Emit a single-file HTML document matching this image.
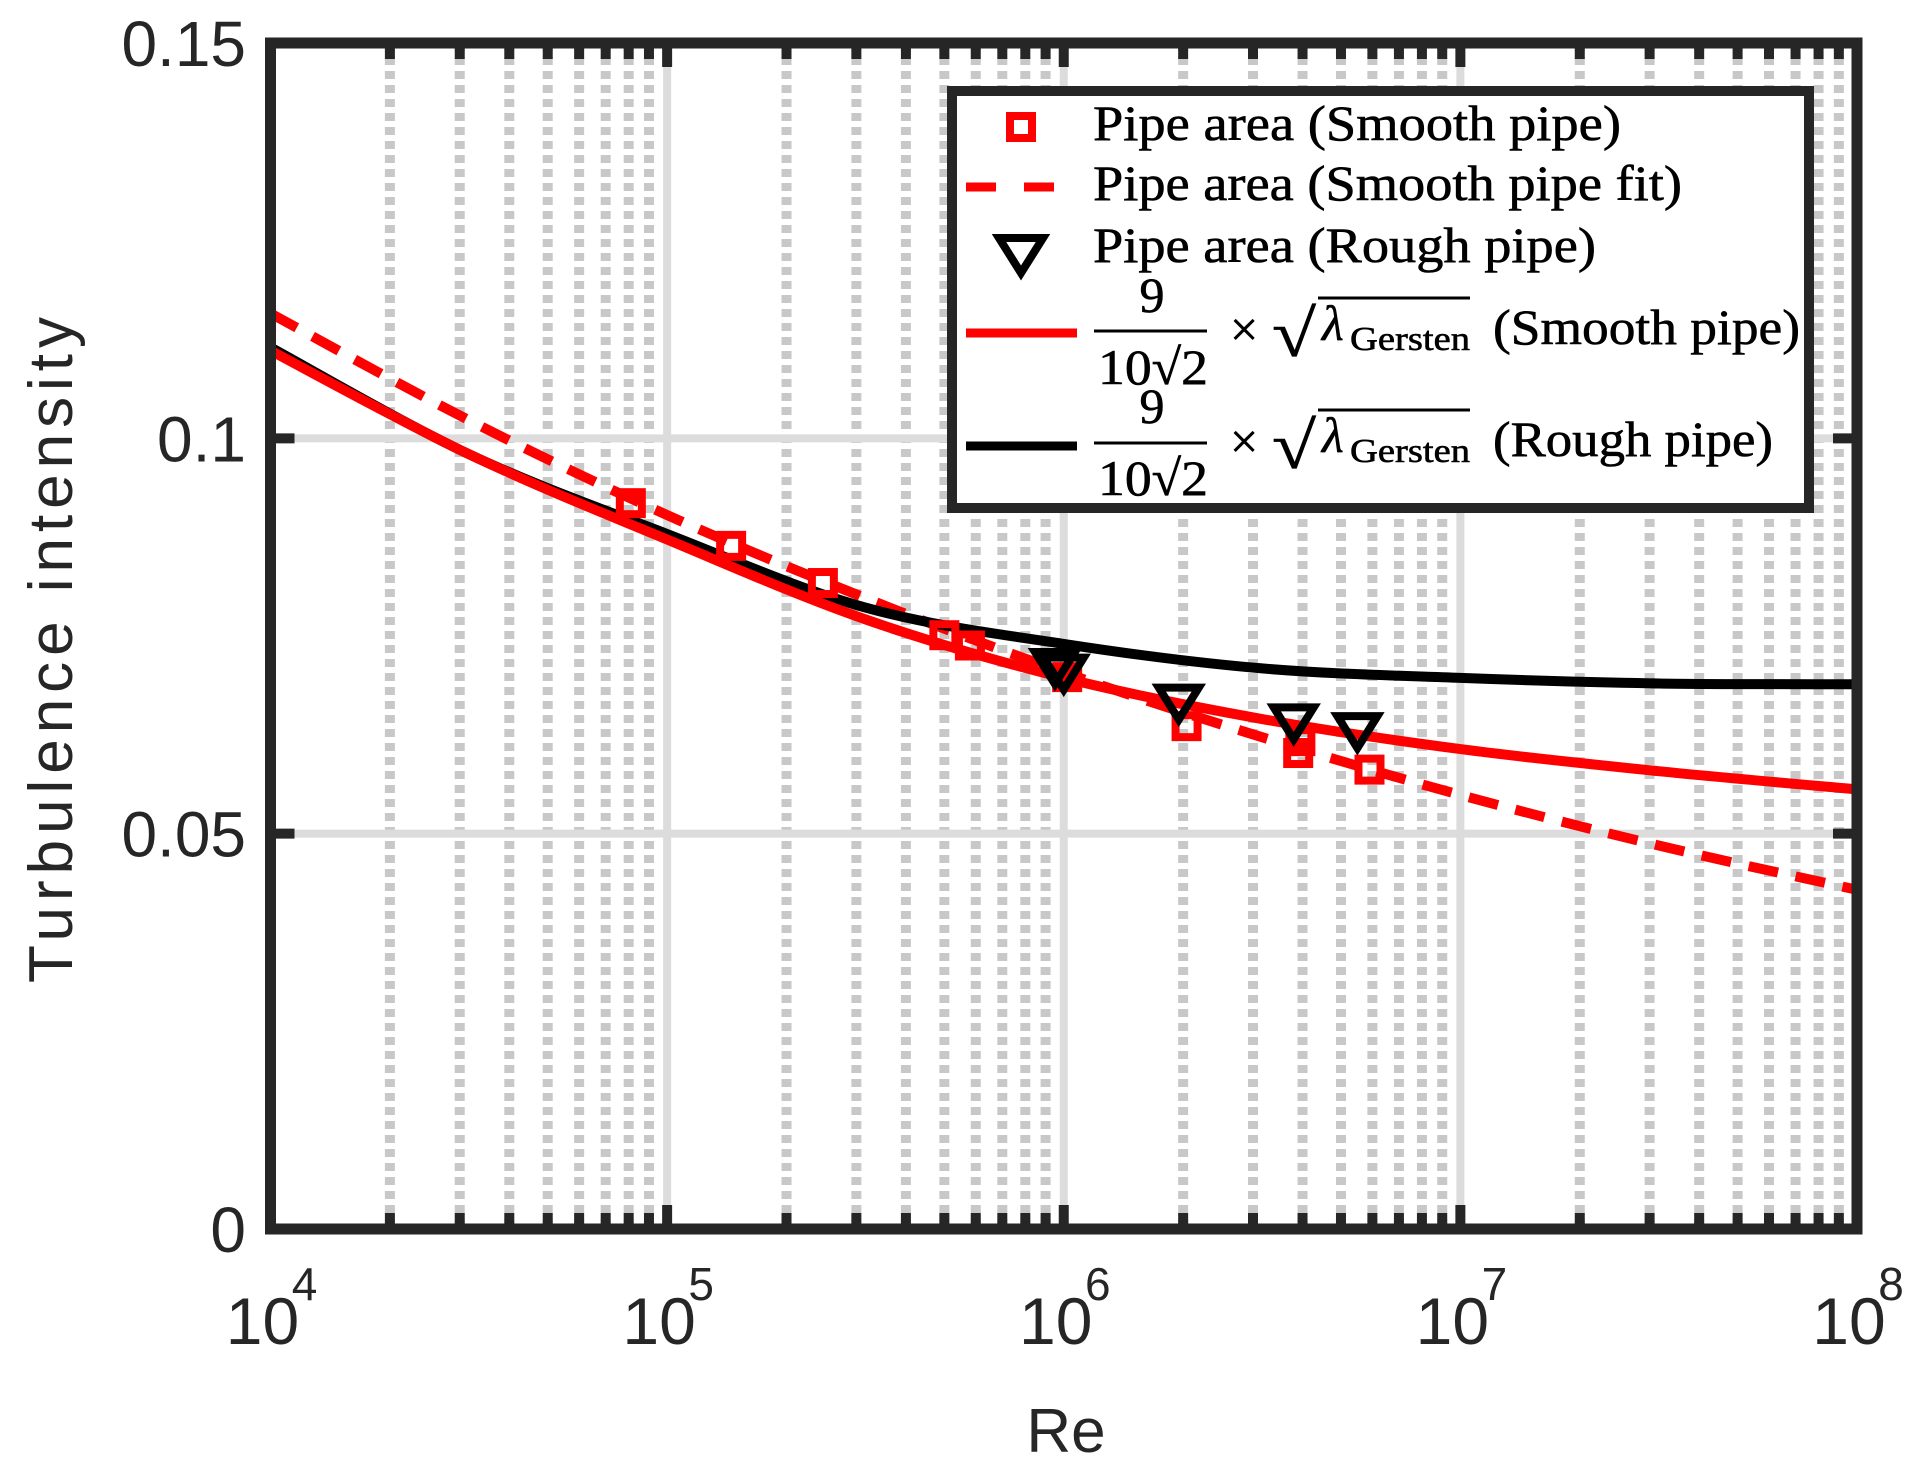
<!DOCTYPE html>
<html><head><meta charset="utf-8"><style>
html,body{margin:0;padding:0;background:#fff;}
svg{display:block;}
</style></head><body>
<svg id="chart" width="1923" height="1473" viewBox="0 0 1923 1473" xmlns="http://www.w3.org/2000/svg">
<rect width="1923" height="1473" fill="#fff"/>
<g id="grid"></g>
<g id="series"></g>
<rect x="270.5" y="43" width="1586.5" height="1186" fill="none" stroke="#262626" stroke-width="11"/>
<g id="ticks"></g>
<g id="labels" font-family="Liberation Sans, sans-serif" fill="#262626"></g>
<text transform="translate(72,650) rotate(-90)" text-anchor="middle" font-family="Liberation Sans, sans-serif" font-size="62" fill="#262626" textLength="666">Turbulence intensity</text>
<text x="1066" y="1452" text-anchor="middle" font-family="Liberation Sans, sans-serif" font-size="62" fill="#262626">Re</text>
<g font-family="Liberation Serif, serif" font-size="50" fill="#000" stroke="#000" stroke-width="0.6">
  <rect x="952" y="91" width="857" height="417" fill="#fff" stroke="#262626" stroke-width="10"/>
  <g>
    <rect x="1010" y="116" width="22" height="22" fill="none" stroke="#f00" stroke-width="8"/>
    <text x="1093" y="140" textLength="528" lengthAdjust="spacingAndGlyphs">Pipe area (Smooth pipe)</text>
  </g>
  <g>
    <line x1="966" y1="187" x2="1055" y2="187" stroke="#f00" stroke-width="9" stroke-dasharray="30,28"/>
    <text x="1093" y="200" textLength="589" lengthAdjust="spacingAndGlyphs">Pipe area (Smooth pipe fit)</text>
  </g>
  <g>
    <path d="M999,238 L1043,238 L1021,273 Z" fill="none" stroke="#000" stroke-width="8"/>
    <text x="1093" y="262" textLength="503" lengthAdjust="spacingAndGlyphs">Pipe area (Rough pipe)</text>
  </g>
  <g>
    <line x1="966" y1="333" x2="1077" y2="333" stroke="#f00" stroke-width="9"/>
    <text x="1152" y="312" text-anchor="middle">9</text>
    <line x1="1094" y1="331" x2="1207" y2="331" stroke="#000" stroke-width="3"/>
    <text x="1098" y="384" textLength="110" lengthAdjust="spacingAndGlyphs">10√2</text>
    <text x="1230" y="346">×</text>
    <text x="1272" y="356" font-size="66" textLength="44" lengthAdjust="spacingAndGlyphs">√</text>
    <line x1="1318" y1="298" x2="1470" y2="298" stroke="#000" stroke-width="3"/>
    <text x="1322" y="340" font-style="italic">λ</text>
    <text x="1350" y="350" font-size="34" textLength="120" lengthAdjust="spacingAndGlyphs">Gersten</text>
    <text x="1493" y="344" textLength="307" lengthAdjust="spacingAndGlyphs">(Smooth pipe)</text>
  </g>
  <g>
    <line x1="966" y1="446" x2="1077" y2="446" stroke="#000" stroke-width="9"/>
    <text x="1152" y="423" text-anchor="middle">9</text>
    <line x1="1094" y1="443" x2="1207" y2="443" stroke="#000" stroke-width="3"/>
    <text x="1098" y="495" textLength="110" lengthAdjust="spacingAndGlyphs">10√2</text>
    <text x="1230" y="458">×</text>
    <text x="1272" y="468" font-size="66" textLength="44" lengthAdjust="spacingAndGlyphs">√</text>
    <line x1="1318" y1="410" x2="1470" y2="410" stroke="#000" stroke-width="3"/>
    <text x="1322" y="452" font-style="italic">λ</text>
    <text x="1350" y="462" font-size="34" textLength="120" lengthAdjust="spacingAndGlyphs">Gersten</text>
    <text x="1493" y="456" textLength="280" lengthAdjust="spacingAndGlyphs">(Rough pipe)</text>
  </g>
</g>
</svg>
<script>
const xTickExp = [4,5,6,7,8];
const yTicks = [0, 0.05, 0.1, 0.15];
const yTickLabels = ["0","0.05","0.1","0.15"];
const curveExp = [4,4.5,5,5.5,6,6.5,7,7.5,8];
const fitVals = [0.1158,0.1023,0.0903,0.0798,0.0704,0.0622,0.0549,0.0485,0.0429];
const smoothVals = [0.1111,0.0980,0.0872,0.0771,0.0697,0.0645,0.0607,0.0579,0.0556];
const roughVals = [0.1115,0.0980,0.0879,0.0786,0.0740,0.0709,0.0697,0.0690,0.0689];
const sqRe = [8.1e4,1.45e5,2.47e5,5.0e5,5.8e5,1.02e6,2.04e6,3.9e6,3.95e6,5.9e6];
const sqVals = [0.0918,0.0864,0.0817,0.0751,0.0738,0.0698,0.0636,0.0602,0.0617,0.0581];
const triRe = [9.5e5,1.0e6,1.95e6,3.8e6,5.5e6];
const triVals = [0.0712,0.0705,0.0667,0.0642,0.0631];

const X0=270.5,X1=1857,Y0=1229,Y1=43;
const xs = e => X0+(e-4)/4*(X1-X0);
const xr = r => xs(Math.log10(r));
const ys = v => Y0-v/0.15*(Y0-Y1);
const NS="http://www.w3.org/2000/svg";
function mk(tag,attrs,parent){const el=document.createElementNS(NS,tag);for(const k in attrs)el.setAttribute(k,attrs[k]);parent.appendChild(el);return el;}
const grid=document.getElementById('grid'),ser=document.getElementById('series'),tk=document.getElementById('ticks'),lb=document.getElementById('labels');

for(let d=4;d<8;d++){for(let m=2;m<=9;m++){const x=xr(m*Math.pow(10,d));
 const g=mk('line',{x1:x,y1:Y1,x2:x,y2:Y0,stroke:'#c8c8c8','stroke-width':10,'stroke-dasharray':'8,6'},grid);
 
 
 for(const [a,b] of [[Y0,Y0-16],[Y1,Y1+16]]){const t=mk('line',{x1:x,y1:a,x2:x,y2:b,stroke:'#262626','stroke-width':10},tk);
 
 }
}}
xTickExp.forEach(e=>{const x=xs(e);
 const g=mk('line',{x1:x,y1:Y1,x2:x,y2:Y0,stroke:'#dcdcdc','stroke-width':8},grid);
 
 
 for(const [a,b] of [[Y0,Y0-24],[Y1,Y1+24]]){const t=mk('line',{x1:x,y1:a,x2:x,y2:b,stroke:'#262626','stroke-width':10},tk);
 
 }
 const t=mk('text',{x:x-8,y:1344,'text-anchor':'middle','font-size':66},lb);
 
 
 t.textContent='10';
 const s=mk('text',{x:x+34,y:1300,'text-anchor':'middle','font-size':46},lb);
 
 
 s.textContent=String(e);
});
yTicks.forEach((v,i)=>{const y=ys(v);
 if(v>0&&v<0.15){const g=mk('line',{x1:X0,y1:y,x2:X1,y2:y,stroke:'#dcdcdc','stroke-width':8},grid);
 
 }
 for(const [a,b] of [[X0,X0+24],[X1,X1-24]]){const t=mk('line',{x1:a,y1:y,x2:b,y2:y,stroke:'#262626','stroke-width':10},tk);
 
 }
 const t=mk('text',{x:246,y:y+23,'text-anchor':'end','font-size':64},lb);
 
 
 t.textContent=yTickLabels[i];
});

function smoothPath(vals){const pts=curveExp.map((e,i)=>[xs(e),ys(vals[i])]);
 let d='M'+pts[0][0]+','+pts[0][1];
 for(let i=0;i<pts.length-1;i++){const p0=pts[Math.max(0,i-1)],p1=pts[i],p2=pts[i+1],p3=pts[Math.min(pts.length-1,i+2)];
  const c1=[p1[0]+(p2[0]-p0[0])/6,p1[1]+(p2[1]-p0[1])/6],c2=[p2[0]-(p3[0]-p1[0])/6,p2[1]-(p3[1]-p1[1])/6];
  d+=' C'+c1+' '+c2+' '+p2;}
 return d;}
const pf=mk('path',{d:smoothPath(fitVals),fill:'none',stroke:'#f00','stroke-width':10,'stroke-dasharray':'30,18'},ser);


const pr=mk('path',{d:smoothPath(roughVals),fill:'none',stroke:'#000','stroke-width':10},ser);


const ps=mk('path',{d:smoothPath(smoothVals),fill:'none',stroke:'#f00','stroke-width':10},ser);


sqRe.forEach((r,i)=>{const x=xr(r),y=ys(sqVals[i]);
 const m=mk('rect',{x:x-11,y:y-11,width:22,height:22,fill:'none',stroke:'#f00','stroke-width':8},ser);
 
 });
triRe.forEach((r,i)=>{const x=xr(r),y=ys(triVals[i]);
 const m=mk('path',{d:`M${x-20},${y-14} L${x+20},${y-14} L${x},${y+18} Z`,fill:'none',stroke:'#000','stroke-width':8},ser);
 
 });
</script>
</body></html>
